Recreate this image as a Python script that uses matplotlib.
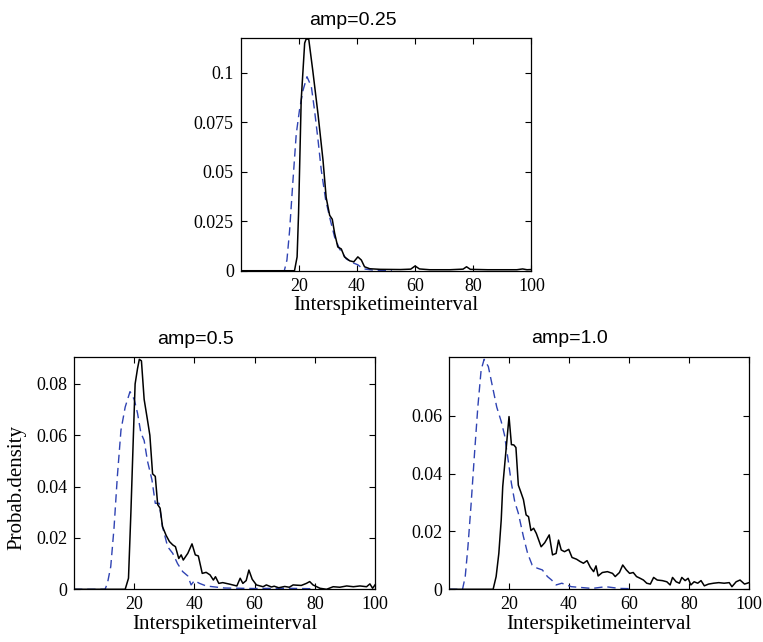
import matplotlib
matplotlib.use("Agg")
import matplotlib.pyplot as plt

# amp=0.25 panel
top_black_x = [0, 18.5, 19.4, 19.9, 20.8, 22.0, 22.5, 23.4, 24.8, 26.6, 28.3, 29.4, 30.6, 31.5,
               32.3, 33.4, 34.6, 35.7, 37.5, 38.9, 40.3, 41.5, 42.6, 44.4, 48, 55, 58.5, 60,
               61.5, 65, 72, 76.5, 77.7, 79, 85, 95, 97, 98.5, 100]
top_black_y = [0, 0, 0.007, 0.029, 0.086, 0.115, 0.117, 0.117, 0.101, 0.079, 0.056, 0.037, 0.028,
               0.026, 0.019, 0.012, 0.011, 0.007, 0.005, 0.0045, 0.007, 0.0054, 0.002, 0.001,
               0.0007, 0.0006, 0.0008, 0.0024, 0.0009, 0.0005, 0.0005, 0.0008, 0.002, 0.0007,
               0.0005, 0.0005, 0.0009, 0.0005, 0.0006]
top_blue_x = [0, 15.0, 15.9, 16.8, 17.9, 19.1, 20.2, 21.4, 22.8, 24.3, 25.4, 26.6, 27.7, 29.2,
              30.6, 32.3, 34.0, 36.3, 38.6, 40.3, 42.0, 45.5, 52]
top_blue_y = [0, 0, 0.0054, 0.020, 0.044, 0.069, 0.081, 0.091, 0.098, 0.093, 0.081, 0.066, 0.051,
              0.036, 0.027, 0.017, 0.011, 0.006, 0.004, 0.003, 0.001, 0.0003, 0]

# amp=0.5 panel
mid_black_x = [0, 17.0, 18.1, 18.9, 19.7, 20.3, 21.1, 21.7, 22.4, 23.3, 24.4, 25.2, 26.1, 27.0,
               27.8, 28.6, 29.4, 30.6, 31.7, 32.8, 33.7, 34.8, 35.6, 36.3, 37.8, 39.2, 40.3,
               41.3, 42.6, 43.9, 45.2, 46.3, 47.0, 48.1, 49.4, 51.7, 54.1, 55.2, 56.1, 57.2,
               58.1, 59.2, 60.6, 62.8, 63.9, 65.6, 66.5, 68.0, 70.0, 71.5, 72.8, 74.0, 75.5,
               77.2, 78.3, 79.4, 81.7, 83.9, 86.1, 88.3, 90.6, 92.8, 95.0, 97.2, 98.3, 99.2, 100]
mid_black_y = [0, 0, 0.0043, 0.030, 0.059, 0.080, 0.086, 0.0896, 0.089, 0.074, 0.066, 0.060,
               0.045, 0.044, 0.033, 0.0316, 0.0244, 0.021, 0.0186, 0.0173, 0.0166, 0.012,
               0.0134, 0.0114, 0.014, 0.0177, 0.0134, 0.013, 0.0062, 0.0066, 0.0056, 0.0036,
               0.0049, 0.0023, 0.0026, 0.002, 0.0013, 0.0043, 0.0023, 0.0034, 0.0075, 0.0039,
               0.0017, 0.001, 0.0017, 0.0009, 0.0012, 0.0006, 0.0011, 0.0008, 0.0017, 0.0016,
               0.0015, 0.0023, 0.0030, 0.0017, 0.0004, 0.0, 0.0010, 0.0008, 0.0013, 0.0010,
               0.0013, 0.0010, 0.0021, 0.0004, 0.0017]
mid_blue_x = [0, 10.3, 11.1, 12.2, 13.3, 14.4, 15.6, 17.0, 18.6, 20.0, 21.1, 22.2, 23.3, 24.4,
              25.9, 27.0, 28.3, 29.4, 31.1, 32.8, 34.4, 36.1, 37.8, 38.9, 40.0, 41.7, 43.9,
              46.1, 50, 60, 70, 80]
mid_blue_y = [0, 0, 0.0023, 0.0088, 0.024, 0.044, 0.062, 0.071, 0.077, 0.074, 0.0686, 0.061,
              0.058, 0.050, 0.0426, 0.0335, 0.0335, 0.0244, 0.0166, 0.014, 0.010, 0.0069,
              0.0052, 0.0017, 0.0034, 0.0023, 0.0013, 0.001, 0.0005, 0.0003, 0.0004, 0.0002]

# amp=1.0 panel
right_black_x = [0, 14.7, 15.7, 16.6, 17.4, 17.9, 18.7, 19.3, 20.0, 20.8, 21.6, 22.3, 23.1,
                 23.9, 24.8, 25.7, 26.5, 27.3, 28.2, 29.1, 29.9, 30.7, 31.9, 33.4, 34.5, 35.7,
                 36.5, 37.4, 38.5, 39.9, 41.0, 42.5, 43.7, 44.8, 46.0, 47.1, 48.2, 49.0, 49.7,
                 51.1, 52.8, 54.5, 55.4, 56.8, 57.9, 59.1, 60.2, 61.4, 62.5, 63.7, 64.8, 65.9,
                 67.1, 68.2, 69.4, 71.1, 72.6, 73.7, 74.5, 75.7, 76.8, 77.6, 78.7, 79.7, 80.6,
                 81.7, 82.9, 84.0, 85.1, 86.5, 88.2, 89.9, 91.7, 93.4, 94.3, 95.7, 97.0, 98.5,
                 100]
right_black_y = [0, 0, 0.0044, 0.0124, 0.024, 0.0355, 0.0447, 0.0516, 0.0597, 0.050, 0.0499,
                 0.049, 0.036, 0.0337, 0.031, 0.0257, 0.0251, 0.0203, 0.0211, 0.0193, 0.017,
                 0.0147, 0.0161, 0.0188, 0.0119, 0.0124, 0.017, 0.0136, 0.013, 0.0138, 0.011,
                 0.0104, 0.0096, 0.009, 0.0099, 0.0076, 0.0061, 0.0081, 0.0046, 0.0058, 0.0061,
                 0.0055, 0.0044, 0.0058, 0.0084, 0.0067, 0.0055, 0.0058, 0.0044, 0.0038, 0.0032,
                 0.0021, 0.0018, 0.0041, 0.0032, 0.003, 0.0026, 0.0015, 0.0041, 0.0026, 0.0021,
                 0.0041, 0.003, 0.0038, 0.0015, 0.0026, 0.0021, 0.003, 0.0012, 0.0018, 0.0021,
                 0.0023, 0.0021, 0.0023, 0.0009, 0.0026, 0.0032, 0.0018, 0.0023]
right_blue_x = [0, 4.5, 5.4, 6.3, 7.3, 8.5, 9.6, 10.7, 11.7, 13.1, 14.5, 15.9, 17.4, 18.5, 19.7,
                20.8, 21.9, 23.1, 24.8, 26.2, 27.7, 29.4, 31.1, 32.8, 34.2, 35.7, 37.6, 39.1,
                40.8, 43.1, 47.7, 52.2, 56.8, 61.4]
right_blue_y = [0, 0, 0.0044, 0.0147, 0.0286, 0.047, 0.063, 0.0758, 0.0795, 0.077, 0.070, 0.063,
                0.058, 0.0533, 0.0447, 0.0366, 0.0303, 0.0263, 0.0182, 0.0124, 0.0084, 0.0073,
                0.0067, 0.0044, 0.0032, 0.0015, 0.0021, 0.0015, 0.0009, 0.0007, 0.0003, 0.0009,
                0.0003, 0.0002]

titles = ["amp=0.25", "amp=0.5", "amp=1.0"]
xticks = [20, 40, 60, 80, 100]
top_yticks = [0, 0.025, 0.05, 0.075, 0.1]
top_ylabels = ["0", "0.025", "0.05", "0.075", "0.1"]
mid_yticks = [0, 0.02, 0.04, 0.06, 0.08]
mid_ylabels = ["0", "0.02", "0.04", "0.06", "0.08"]
right_yticks = [0, 0.02, 0.04, 0.06]
right_ylabels = ["0", "0.02", "0.04", "0.06"]

SERIF = "Liberation Serif"
SANS = "Liberation Sans"
BLUE = "#2f43b3"

fig = plt.figure(figsize=(7.63, 6.42), dpi=100)
ax_top = fig.add_axes([0.3155, 0.5783, 0.3809, 0.3620])
ax_mid = fig.add_axes([0.0970, 0.0821, 0.3945, 0.3614])
ax_right = fig.add_axes([0.5885, 0.0821, 0.3932, 0.3623])

panels = [
    (ax_top, top_black_x, top_black_y, top_blue_x, top_blue_y, 0.1174, top_yticks, top_ylabels, titles[0], 0.386),
    (ax_mid, mid_black_x, mid_black_y, mid_blue_x, mid_blue_y, 0.0904, mid_yticks, mid_ylabels, titles[1], 0.402),
    (ax_right, right_black_x, right_black_y, right_blue_x, right_blue_y, 0.0804, right_yticks, right_ylabels, titles[2], 0.403),
]

for ax, bx, by, ux, uy, ytop, yt, yl, title, tx in panels:
    ax.plot(ux, uy, color=BLUE, lw=1.0, dashes=(6, 3.5))
    ax.plot(bx, by, color="black", lw=1.1)
    ax.set_xlim(0, 100)
    ax.set_ylim(0, ytop)
    ax.set_xticks(xticks)
    ax.set_xticklabels([str(t) for t in xticks], family=SERIF, fontsize=13)
    ax.set_yticks(yt)
    ax.set_yticklabels(yl, family=SERIF, fontsize=13)
    ax.tick_params(direction="in", top=True, right=True, length=4.5, width=0.8, pad=5)
    for sp in ax.spines.values():
        sp.set_linewidth(0.9)
    ax.set_xlabel("Interspiketimeinterval", family=SERIF, fontsize=15, labelpad=1)
    ax.text(tx, 1.057, title, transform=ax.transAxes, ha="center", va="baseline",
            family=SANS, fontsize=14)

fig.text(16.7 / 763, 1 - 487.5 / 642, "Probab.density", rotation=90, ha="center", va="center",
         family=SERIF, fontsize=15)

fig.savefig("out.png", dpi=100)
